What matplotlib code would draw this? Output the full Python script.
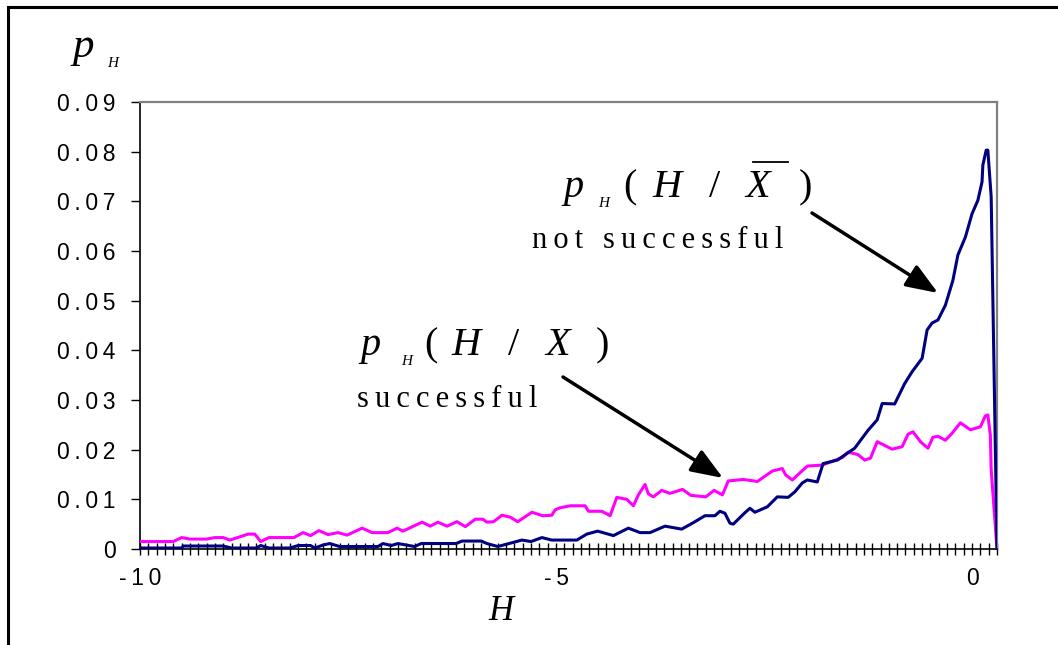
import matplotlib
matplotlib.use("Agg")
import matplotlib.pyplot as plt
from matplotlib.lines import Line2D
from matplotlib.patches import Rectangle
from matplotlib.ticker import MultipleLocator

# ---- data ----
h_success = [-10.0, -9.6, -9.5, -9.4, -9.2, -9.1, -9.0, -8.92, -8.7, -8.62, -8.55, -8.45, -8.15,
             -8.04, -7.95, -7.85, -7.74, -7.62, -7.51, -7.33, -7.21, -7.02, -6.91, -6.84, -6.61,
             -6.51, -6.42, -6.31, -6.19, -6.09, -5.97, -5.88, -5.83, -5.75, -5.65, -5.55, -5.46,
             -5.29, -5.16, -5.05, -5.01, -4.95, -4.83, -4.65, -4.61, -4.45, -4.35, -4.27, -4.15,
             -4.07, -4.01, -3.93, -3.89, -3.83, -3.73, -3.63, -3.48, -3.38, -3.2, -3.1, -3.0,
             -2.93, -2.75, -2.58, -2.4, -2.28, -2.24, -2.16, -1.98, -1.8, -1.56, -1.49, -1.37,
             -1.29, -1.22, -1.14, -0.96, -0.84, -0.77, -0.71, -0.62, -0.53, -0.47, -0.41, -0.32,
             -0.24, -0.14, -0.02, 0.1, 0.16, 0.19, 0.22, 0.23, 0.3]
p_success = [0.0015, 0.0015, 0.0023, 0.002, 0.002, 0.0023, 0.0023, 0.0018, 0.003, 0.003, 0.0015,
             0.0023, 0.0023, 0.0033, 0.0027, 0.0037, 0.0029, 0.0033, 0.0028, 0.0042, 0.0033,
             0.0033, 0.0042, 0.0036, 0.0054, 0.0046, 0.0054, 0.0046, 0.0055, 0.0045, 0.006,
             0.006, 0.0054, 0.0055, 0.0068, 0.0064, 0.0055, 0.0074, 0.0067, 0.0068, 0.0079,
             0.0083, 0.0087, 0.0087, 0.0076, 0.0076, 0.0067, 0.0104, 0.0100, 0.0087, 0.0109,
             0.013, 0.0111, 0.0105, 0.0118, 0.0112, 0.012, 0.0108, 0.0105, 0.0118, 0.0109,
             0.0137, 0.014, 0.0136, 0.0157, 0.0162, 0.0149, 0.0139, 0.0167, 0.0169, 0.0184,
             0.0195, 0.019, 0.0179, 0.0183, 0.0216, 0.0201, 0.0206, 0.0231, 0.0236, 0.0216,
             0.0203, 0.0225, 0.0227, 0.0219, 0.0233, 0.0254, 0.024, 0.0246, 0.0268, 0.027,
             0.0229, 0.016, 0.0]

h_fail = [-10.0, -9.5, -9.48, -9.0, -8.9, -8.6, -8.55, -8.45, -8.2, -8.1, -7.95, -7.9, -7.8,
          -7.72, -7.6, -7.14, -7.08, -6.98, -6.9, -6.7, -6.62, -6.2, -6.13, -5.9, -5.83, -5.7,
          -5.52, -5.41, -5.3, -5.17, -5.05, -4.75, -4.63, -4.5, -4.31, -4.13, -3.99, -3.87,
          -3.69, -3.49, -3.35, -3.21, -3.09, -3.03, -2.97, -2.91, -2.87, -2.73, -2.67, -2.61,
          -2.46, -2.34, -2.21, -2.13, -2.04, -1.98, -1.86, -1.79, -1.62, -1.41, -1.25, -1.14,
          -1.08, -0.93, -0.81, -0.72, -0.6, -0.54, -0.48, -0.41, -0.32, -0.23, -0.17, -0.08,
          0.0, 0.07, 0.12, 0.13, 0.17, 0.19, 0.23, 0.3]
p_fail = [0.0002, 0.0002, 0.0006, 0.0006, 0.0002, 0.0002, 0.0007, 0.0002, 0.0002, 0.0007,
          0.0007, 0.0002, 0.0008, 0.0011, 0.0005, 0.0005, 0.0011, 0.0007, 0.0011, 0.0005,
          0.0011, 0.0011, 0.0016, 0.0016, 0.0011, 0.0005, 0.0013, 0.0018, 0.0015, 0.0023,
          0.0018, 0.0018, 0.003, 0.0036, 0.0027, 0.0042, 0.0033, 0.0033, 0.0046, 0.004,
          0.0053, 0.0067, 0.0067, 0.0076, 0.0072, 0.0052, 0.005, 0.0073, 0.0082, 0.0074,
          0.0085, 0.0105, 0.0104, 0.0115, 0.0133, 0.0139, 0.0135, 0.0172, 0.0179, 0.0203,
          0.0239, 0.026, 0.0293, 0.0292, 0.0333, 0.0357, 0.0384, 0.0441, 0.0455, 0.0461,
          0.0491, 0.0541, 0.0592, 0.0628, 0.0675, 0.0702, 0.0739, 0.0773, 0.0803, 0.0803,
          0.0709, 0.0]

y_ticks = [0, 0.01, 0.02, 0.03, 0.04, 0.05, 0.06, 0.07, 0.08, 0.09]
y_labels = ["0", "0.01", "0.02", "0.03", "0.04", "0.05", "0.06", "0.07", "0.08", "0.09"]
x_ticks = [-10, -5, 0]
x_labels = ["-10", "-5", "0"]

W, H = 1058, 645
fig = plt.figure(figsize=(W / 100, H / 100), dpi=100)
fig.patch.set_facecolor("white")

SANS = ["Liberation Sans", "DejaVu Sans"]
SERIF = ["Liberation Serif", "DejaVu Serif"]


def spaced(s, sp="\u2009"):
    return sp.join(list(s))


ax = fig.add_axes([140 / W, 1 - 549 / H, (997 - 140) / W, (549 - 102) / H])
ax.plot(h_success, p_success, color="#FF00FF", lw=2.2, solid_joinstyle="round", zorder=3)
ax.plot(h_fail, p_fail, color="#000080", lw=2.2, solid_joinstyle="round", zorder=4)

ax.set_xlim(-10, 0.3)
ax.set_ylim(0, 0.09)

ax.set_yticks(y_ticks)
ax.set_yticklabels([spaced(t) for t in y_labels], fontfamily=SANS, fontsize=16.5)
ax.set_xticks(x_ticks)
ax.set_xticklabels([spaced(t) for t in x_labels], fontfamily=SANS, fontsize=16.5)
ax.xaxis.set_minor_locator(MultipleLocator(0.1))

ax.tick_params(axis="y", direction="out", length=6.5, width=1.0, pad=11, colors="black")
ax.tick_params(axis="x", which="both", direction="inout", length=8.5, width=1.0, pad=9)

for side in ("top", "right"):
    ax.spines[side].set_color("#808080")
    ax.spines[side].set_linewidth(1.6)
for side in ("left", "bottom"):
    ax.spines[side].set_color("black")
    ax.spines[side].set_linewidth(1.2)


def put(x, y, s, size, italic=True):
    fig.text(x / W, 1 - y / H, s, fontsize=size, fontfamily=SERIF,
             style="italic" if italic else "normal", ha="left", va="baseline")


# y-axis label p_H
put(73, 57, "p", 31)
put(107, 67, "H", 11)

# x-axis label
put(488, 620, "H", 25)

# formula 1 (not successful)
b1 = 197
put(563, b1, "p", 29)
put(598, b1 + 10, "H", 11)
put(623, b1, "(", 29, italic=False)
put(652, b1, "H", 29)
put(709, b1, "/", 29, italic=False)
put(745, b1, "X", 29)
put(799, b1, ")", 29, italic=False)
fig.add_artist(Line2D([753 / W, 788 / W], [1 - 162 / H, 1 - 162 / H],
                      transform=fig.transFigure, color="black", lw=1.3))
put(532, 248, spaced("not successful", "\u2009"), 22, italic=False)

# formula 2 (successful)
b2 = 355
put(360, b2, "p", 29)
put(401, b2 + 10, "H", 11)
put(424, b2, "(", 29, italic=False)
put(451, b2, "H", 29)
put(508, b2, "/", 29, italic=False)
put(545, b2, "X", 29)
put(596, b2, ")", 29, italic=False)
put(357, 407, spaced("successful", "\u2009"), 22, italic=False)


def px2data(x, y):
    return (x - 140) / (997 - 140) * 10.3 - 10, (549 - y) / (549 - 102) * 0.09


arrow_kw = dict(arrowstyle="-|>,head_length=1.3,head_width=0.5", color="black",
                lw=2.5, mutation_scale=15, shrinkA=0, shrinkB=0)
ax.annotate("", xy=px2data(938, 293), xytext=px2data(812, 213),
            arrowprops=arrow_kw, annotation_clip=False)
ax.annotate("", xy=px2data(723, 478), xytext=px2data(563, 377),
            arrowprops=arrow_kw, annotation_clip=False)

# outer frame
fig.add_artist(Rectangle((8 / W, -0.2), 1.2, 1.2 - 7 / H, transform=fig.transFigure,
                         fill=False, edgecolor="black", lw=2.2))

fig.savefig("out.png", dpi=100, facecolor="white")
